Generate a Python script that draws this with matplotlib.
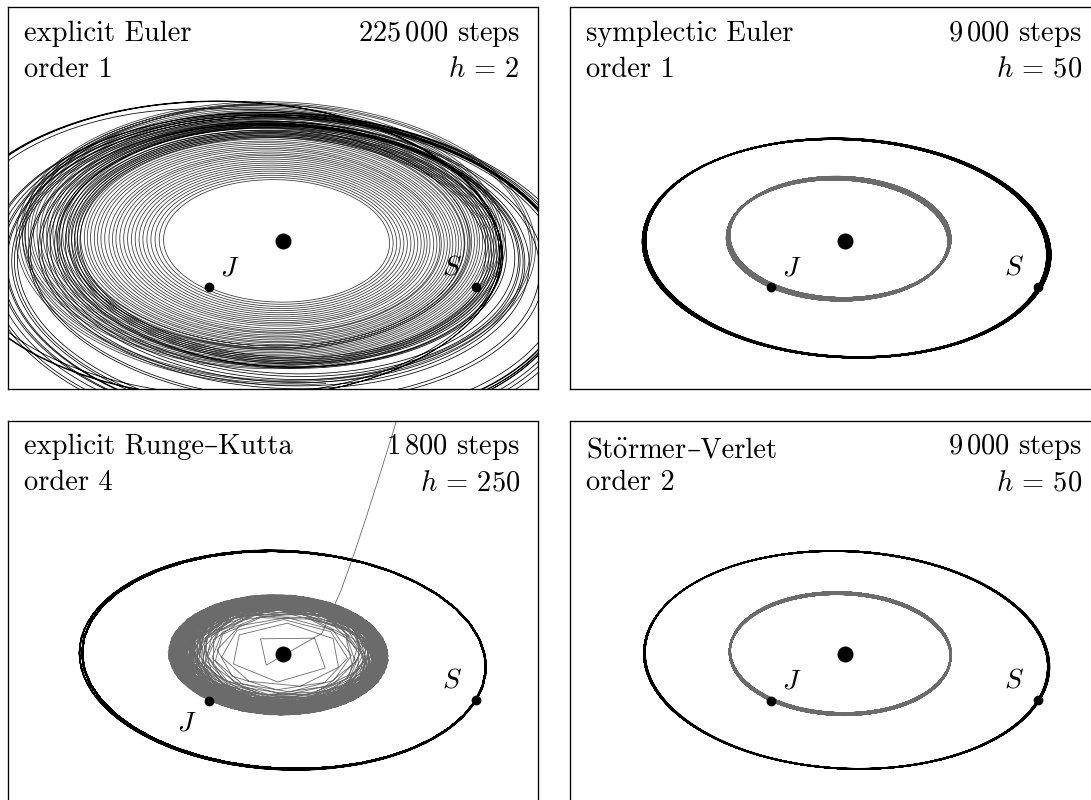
"""
Sun-Jupiter-Saturn: four integrators, orbits seen slightly from above.
"""

from math import sqrt, sin, cos, radians

import numpy as np
import matplotlib
matplotlib.use("Agg")
import matplotlib.pyplot as plt

plt.rcParams["font.family"] = ["cmr10", "DejaVu Serif"]
plt.rcParams["mathtext.fontset"] = "cm"
plt.rcParams["axes.formatter.use_mathtext"] = True

# --- data --------------------------------------------------------------
G = 2.95912208286e-4
MASSES = [1.00000597682, 0.000954786104043, 0.000285583733151]   # Sun, J, S
Q0 = [0.0, 0.0, 0.0,
      -3.5023653, -3.8169847, -1.5507963,
      9.0755314, -3.0458353, -1.6483708]
V0 = [0.0, 0.0, 0.0,
      0.00565429, -0.00412490, -0.00190589,
      0.00168318, 0.00483525, 0.00192462]

# titles; a tuple is drawn in two pieces (mathtext umlaut + plain en dash)
METHODS = ["explicit Euler", "symplectic Euler", "explicit Runge–Kutta",
           (r"St$\ddot{\mathrm{o}}$rmer", "–Verlet")]
ORDERS = [1, 1, 4, 2]
N_STEPS = [225000, 9000, 1800, 9000]
STEP_LABELS = [r"$225\,000$ steps", r"$9\,000$ steps", r"$1\,800$ steps", r"$9\,000$ steps"]
H_VALUES = [2, 50, 250, 50]
H_LABELS = [r"$h\,=\,2$", r"$h\,=\,50$", r"$h\,=\,250$", r"$h\,=\,50$"]

VIEW_ELEV = radians(10.0)
XLIM = (-13, 12)
YLIM = (-7, 11)

GRAY = "#6b6b6b"

SE, CE = sin(VIEW_ELEV), cos(VIEW_ELEV)
m0, m1, m2 = MASSES


def accel(q):
    d01x, d01y, d01z = q[3] - q[0], q[4] - q[1], q[5] - q[2]
    d02x, d02y, d02z = q[6] - q[0], q[7] - q[1], q[8] - q[2]
    d12x, d12y, d12z = q[6] - q[3], q[7] - q[4], q[8] - q[5]
    r = d01x * d01x + d01y * d01y + d01z * d01z
    f01 = G / (r * sqrt(r))
    r = d02x * d02x + d02y * d02y + d02z * d02z
    f02 = G / (r * sqrt(r))
    r = d12x * d12x + d12y * d12y + d12z * d12z
    f12 = G / (r * sqrt(r))
    return [
        f01 * m1 * d01x + f02 * m2 * d02x,
        f01 * m1 * d01y + f02 * m2 * d02y,
        f01 * m1 * d01z + f02 * m2 * d02z,
        -f01 * m0 * d01x + f12 * m2 * d12x,
        -f01 * m0 * d01y + f12 * m2 * d12y,
        -f01 * m0 * d01z + f12 * m2 * d12z,
        -f02 * m0 * d02x - f12 * m1 * d12x,
        -f02 * m0 * d02y - f12 * m1 * d12y,
        -f02 * m0 * d02z - f12 * m1 * d12z,
    ]


def project(q):
    # heliocentric, viewed from -y, lifted by VIEW_ELEV
    jx, jy, jz = q[3] - q[0], q[4] - q[1], q[5] - q[2]
    sx, sy, sz = q[6] - q[0], q[7] - q[1], q[8] - q[2]
    return (jx, SE * jy + CE * jz, sx, SE * sy + CE * sz)


def explicit_euler(q, v, h, n):
    out = [project(q)]
    for _ in range(n):
        a = accel(q)
        q = [q[k] + h * v[k] for k in range(9)]
        v = [v[k] + h * a[k] for k in range(9)]
        out.append(project(q))
    return np.array(out)


def symplectic_euler(q, v, h, n):
    out = [project(q)]
    for _ in range(n):
        a = accel(q)
        v = [v[k] + h * a[k] for k in range(9)]
        q = [q[k] + h * v[k] for k in range(9)]
        out.append(project(q))
    return np.array(out)


def stoermer_verlet(q, v, h, n):
    out = [project(q)]
    a = accel(q)
    for _ in range(n):
        vh = [v[k] + 0.5 * h * a[k] for k in range(9)]
        q = [q[k] + h * vh[k] for k in range(9)]
        a = accel(q)
        v = [vh[k] + 0.5 * h * a[k] for k in range(9)]
        out.append(project(q))
    return np.array(out)


def runge_kutta4(q, v, h, n):
    out = [project(q)]
    for _ in range(n):
        k1q, k1v = v, accel(q)
        q2 = [q[k] + 0.5 * h * k1q[k] for k in range(9)]
        k2q = [v[k] + 0.5 * h * k1v[k] for k in range(9)]
        k2v = accel(q2)
        q3 = [q[k] + 0.5 * h * k2q[k] for k in range(9)]
        k3q = [v[k] + 0.5 * h * k2v[k] for k in range(9)]
        k3v = accel(q3)
        q4 = [q[k] + h * k3q[k] for k in range(9)]
        k4q = [v[k] + h * k3v[k] for k in range(9)]
        k4v = accel(q4)
        q = [q[k] + h / 6 * (k1q[k] + 2 * k2q[k] + 2 * k3q[k] + k4q[k]) for k in range(9)]
        v = [v[k] + h / 6 * (k1v[k] + 2 * k2v[k] + 2 * k3v[k] + k4v[k]) for k in range(9)]
        out.append(project(q))
    return np.array(out)


INTEGRATORS = [explicit_euler, symplectic_euler, runge_kutta4, stoermer_verlet]

fig = plt.figure(figsize=(10.91, 8.0), dpi=100)
W, H = 1091.0, 800.0
box_w, box_h = 530.5, 382.0
corners = [(7.5, 7.5), (569.5, 7.5), (7.5, 420.7), (569.5, 420.7)]

j0x, j0y, s0x, s0y = project(Q0)

for idx in range(4):
    left, top = corners[idx]
    ax = fig.add_axes([left / W, (H - top - box_h) / H, box_w / W, box_h / H])
    ax.set_xlim(*XLIM)
    ax.set_ylim(*YLIM)
    ax.set_xticks([])
    ax.set_yticks([])
    for sp in ax.spines.values():
        sp.set_linewidth(0.95)

    traj = INTEGRATORS[idx](list(Q0), list(V0), H_VALUES[idx], N_STEPS[idx])

    if idx == 0:
        ax.plot(traj[:, 0], traj[:, 1], color="#333333", lw=0.55)
        ax.plot(traj[:, 2], traj[:, 3], color="black", lw=0.55)
    elif idx == 2:
        ax.plot(traj[:, 0], traj[:, 1], color=GRAY, lw=0.6)
        ax.plot(traj[:, 2], traj[:, 3], color="black", lw=0.95)
    else:
        ax.plot(traj[:, 0], traj[:, 1], color=GRAY, lw=1.1)
        ax.plot(traj[:, 2], traj[:, 3], color="black", lw=0.8)

    ax.plot([0], [0], "o", color="black", ms=11.5, mec="none")
    ax.plot([j0x, s0x], [j0y, s0y], "o", color="black", ms=7, mec="none")

    if idx == 2:
        ax.annotate(r"$J$", (j0x, j0y), xytext=(-16, -16), textcoords="offset points",
                    ha="center", va="center", fontsize=20)
    else:
        ax.annotate(r"$J$", (j0x, j0y), xytext=(15, 14), textcoords="offset points",
                    ha="center", va="center", fontsize=20)
    ax.annotate(r"$S$", (s0x, s0y), xytext=(-17, 14), textcoords="offset points",
                ha="center", va="center", fontsize=20)

    y1 = 1 - (36.7 if idx == 3 else 33.7) / box_h
    y2 = 1 - 69.5 / box_h
    title = METHODS[idx]
    if isinstance(title, tuple):
        first = ax.text(16.5 / box_w, y1, title[0], transform=ax.transAxes,
                        ha="left", va="baseline", fontsize=20.5)
        fig.canvas.draw()
        bb = first.get_window_extent()
        x_disp, y_disp = ax.transAxes.transform((16.5 / box_w, y1))
        x_ax = ax.transAxes.inverted().transform((bb.x1, y_disp))[0]
        ax.text(x_ax, y1, title[1], transform=ax.transAxes,
                ha="left", va="baseline", fontsize=20.5)
    else:
        ax.text(16.5 / box_w, y1, title, transform=ax.transAxes,
                ha="left", va="baseline", fontsize=20.5)
    ax.text(16.5 / box_w, y2, f"order {ORDERS[idx]}", transform=ax.transAxes,
            ha="left", va="baseline", fontsize=20.5)
    ax.text(1 - 18 / box_w, 1 - 33.7 / box_h, STEP_LABELS[idx], transform=ax.transAxes,
            ha="right", va="baseline", fontsize=20.5)
    ax.text(1 - 18 / box_w, y2, H_LABELS[idx], transform=ax.transAxes,
            ha="right", va="baseline", fontsize=20.5)

fig.savefig("out.png", dpi=100)
